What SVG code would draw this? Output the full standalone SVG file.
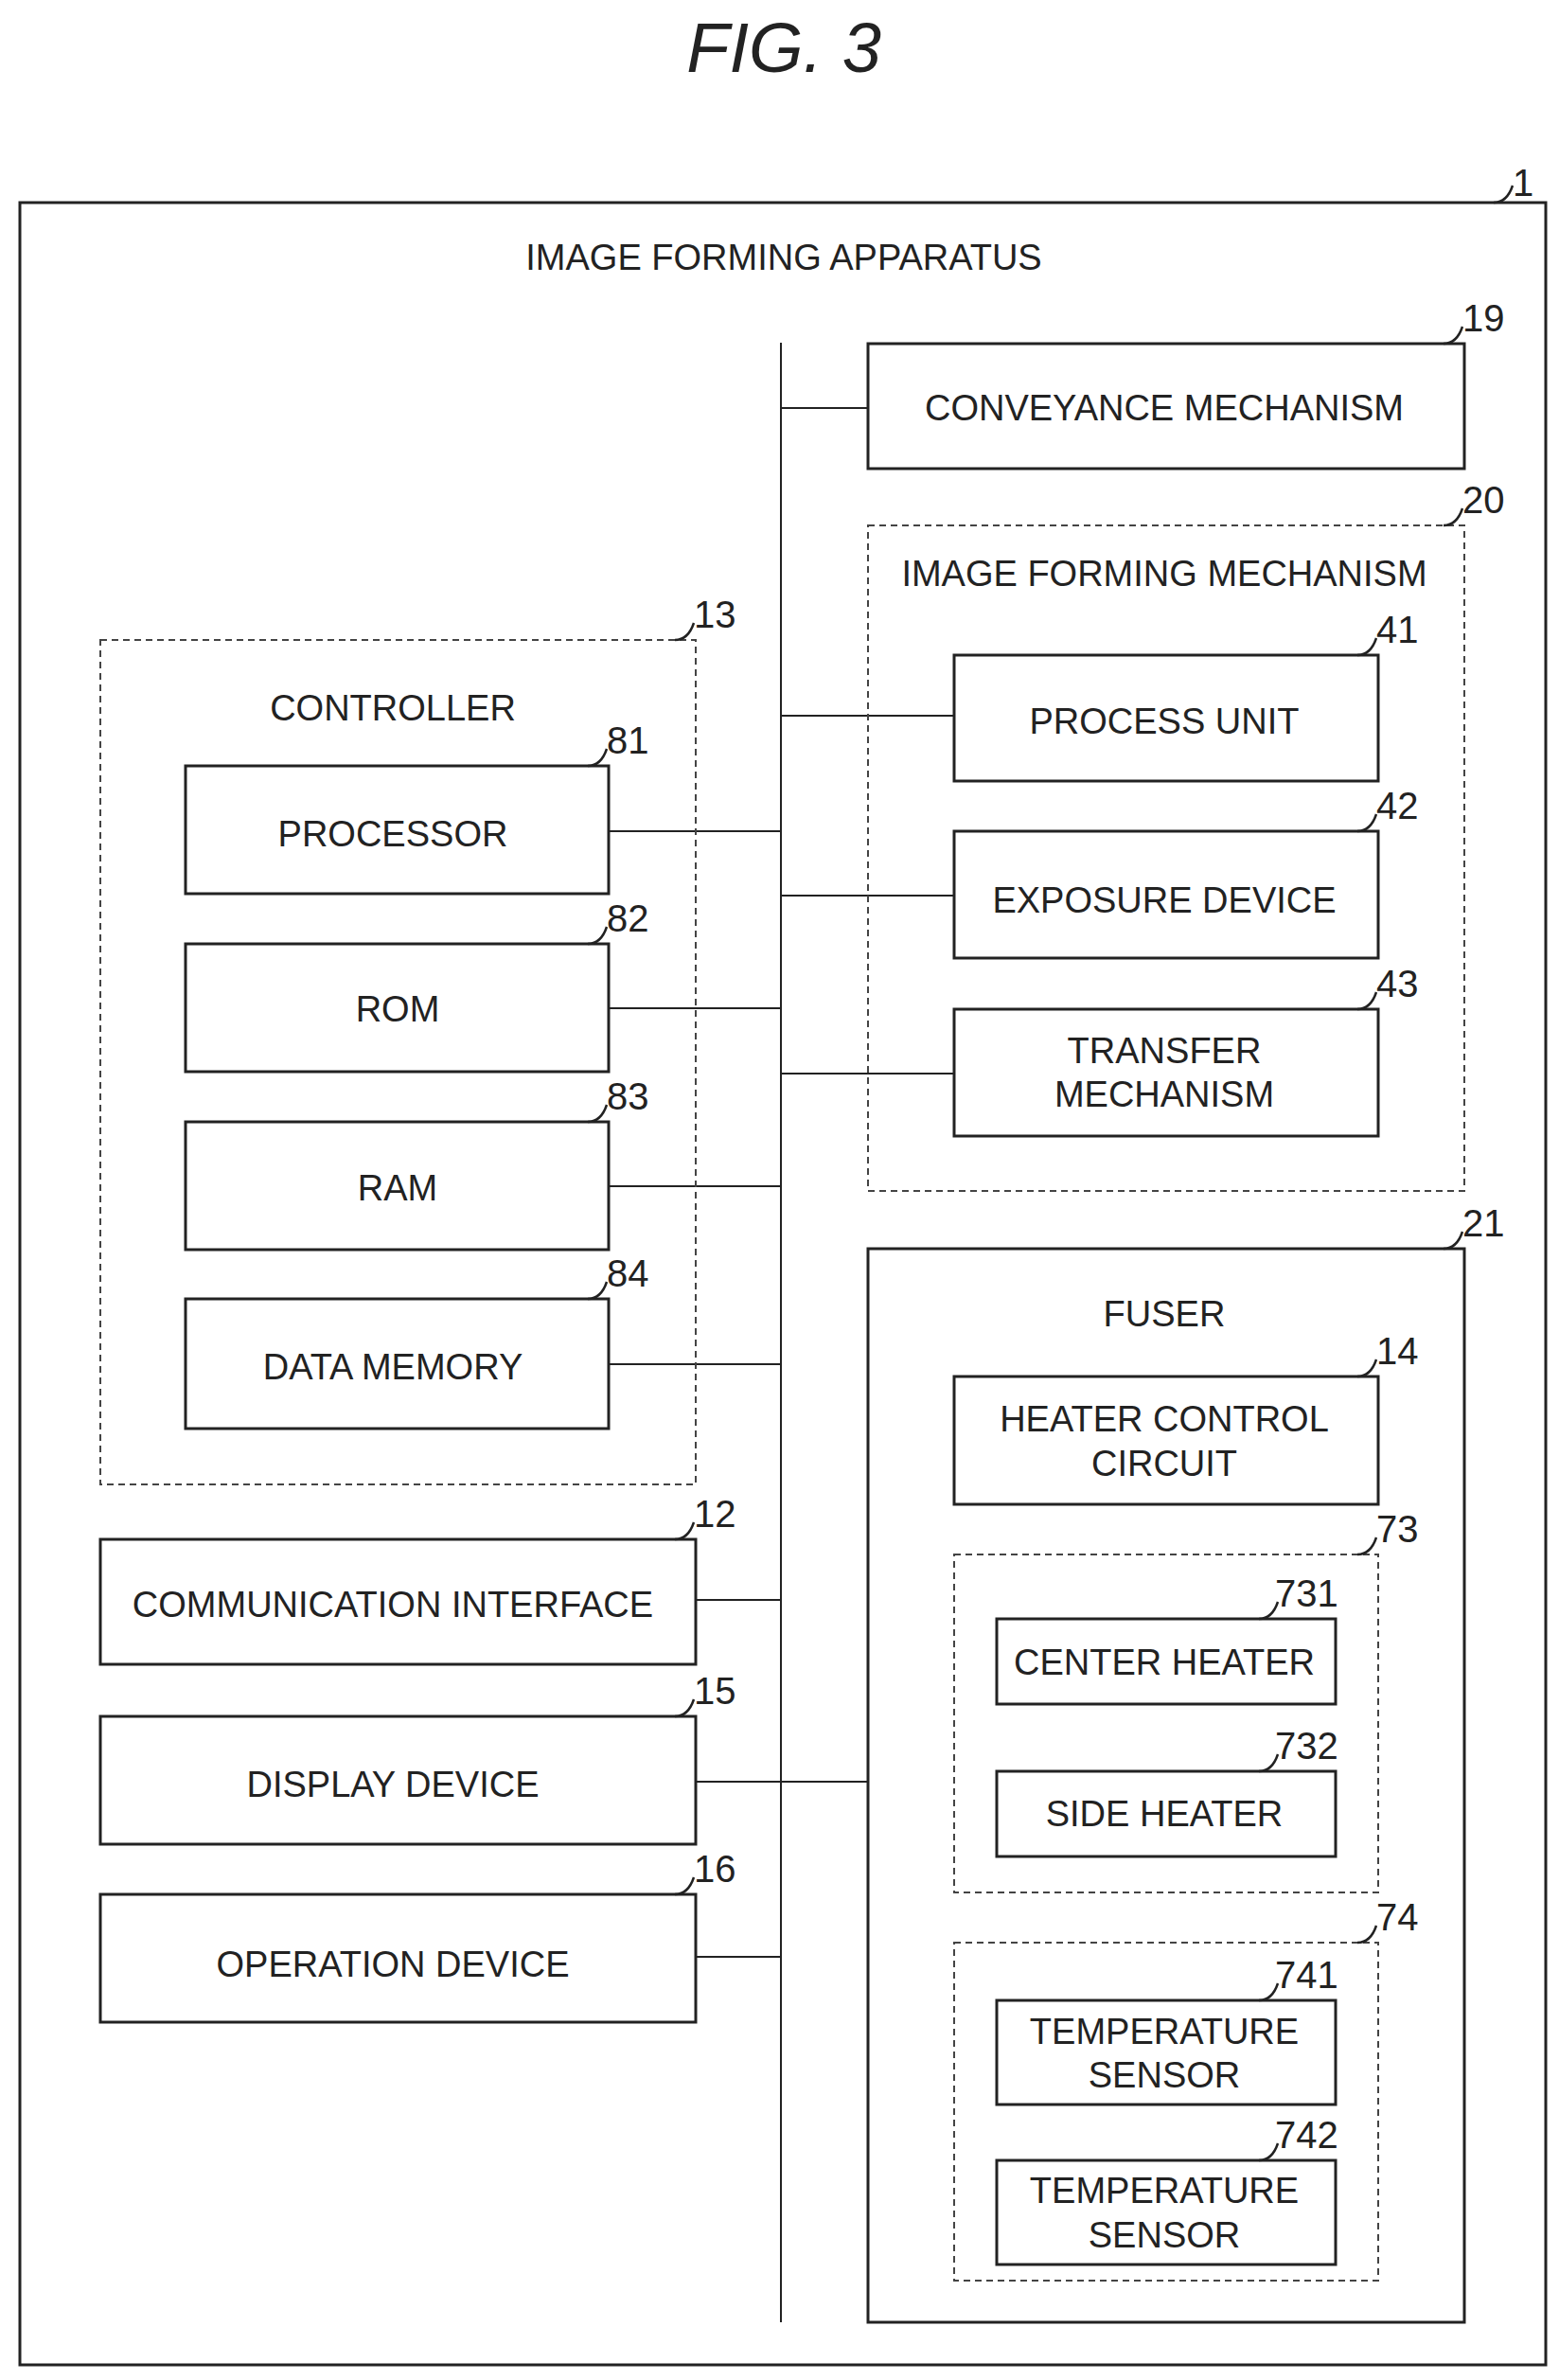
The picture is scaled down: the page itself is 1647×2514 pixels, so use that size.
<svg xmlns="http://www.w3.org/2000/svg" width="1647" height="2514" viewBox="0 0 1647 2514">
<style>
.b{fill:none;stroke:#222;stroke-width:3}
.d{fill:none;stroke:#444;stroke-width:2;stroke-dasharray:7 5}
.t{font-family:"Liberation Sans",Arial,sans-serif;font-size:38px;fill:#222;text-anchor:middle}
.n{font-family:"Liberation Sans",Arial,sans-serif;font-size:40px;fill:#222}
.l{fill:none;stroke:#222;stroke-width:2.5}
.c{stroke:#222;stroke-width:2;fill:none}
</style>
<rect width="1647" height="2514" fill="#fff"/>
<text x="828" y="76" font-family="Liberation Sans,Arial,sans-serif" font-size="74" font-style="italic" fill="#222" text-anchor="middle">FIG. 3</text>
<g id="apparatus">
<rect class="b" x="21" y="214" width="1612" height="2284"/>
<text class="t" x="828" y="285">IMAGE FORMING APPARATUS</text>
<path class="l" d="M1578 214 q14 0 20 -18"/><text class="n" x="1598" y="207">1</text>
</g>
<g id="connectors">
<path class="c" d="M825 362V2453M825 431H917M825 756H1008M643 878H825M825 946H1008M643 1065H825M825 1134H1008M643 1253H825M643 1441H825M735 1690H825M735 1882H917M735 2067H825"/>
</g>
<g id="n19"><rect class="b" x="917" y="363" width="630" height="132"/><text class="t" x="1230" y="444">CONVEYANCE MECHANISM</text><path class="l" d="M1525 363 q14 0 20 -18"/><text class="n" x="1545" y="350">19</text></g>
<g id="n20"><rect class="d" x="917" y="555" width="630" height="703"/><text class="t" x="1230" y="619">IMAGE FORMING MECHANISM</text><path class="l" d="M1525 555 q14 0 20 -18"/><text class="n" x="1545" y="542">20</text></g>
<g id="n41"><rect class="b" x="1008" y="692" width="448" height="133"/><text class="t" x="1230" y="775">PROCESS UNIT</text><path class="l" d="M1434 692 q14 0 20 -18"/><text class="n" x="1454" y="679">41</text></g>
<g id="n42"><rect class="b" x="1008" y="878" width="448" height="134"/><text class="t" x="1230" y="964">EXPOSURE DEVICE</text><path class="l" d="M1434 878 q14 0 20 -18"/><text class="n" x="1454" y="865">42</text></g>
<g id="n43"><rect class="b" x="1008" y="1066" width="448" height="134"/><text class="t" x="1230" y="1123">TRANSFER</text><text class="t" x="1230" y="1169">MECHANISM</text><path class="l" d="M1434 1066 q14 0 20 -18"/><text class="n" x="1454" y="1053">43</text></g>
<g id="n21"><rect class="b" x="917" y="1319" width="630" height="1134"/><text class="t" x="1230" y="1401">FUSER</text><path class="l" d="M1525 1319 q14 0 20 -18"/><text class="n" x="1545" y="1306">21</text></g>
<g id="n14"><rect class="b" x="1008" y="1454" width="448" height="135"/><text class="t" x="1230" y="1512">HEATER CONTROL</text><text class="t" x="1230" y="1559">CIRCUIT</text><path class="l" d="M1434 1454 q14 0 20 -18"/><text class="n" x="1454" y="1441">14</text></g>
<g id="n73"><rect class="d" x="1008" y="1642" width="448" height="357"/><path class="l" d="M1434 1642 q14 0 20 -18"/><text class="n" x="1454" y="1629">73</text></g>
<g id="n731"><rect class="b" x="1053" y="1710" width="358" height="90"/><text class="t" x="1230" y="1769">CENTER HEATER</text><path class="l" d="M1330 1710 q14 0 20 -18"/><text class="n" x="1347" y="1697">731</text></g>
<g id="n732"><rect class="b" x="1053" y="1871" width="358" height="90"/><text class="t" x="1230" y="1929">SIDE HEATER</text><path class="l" d="M1330 1871 q14 0 20 -18"/><text class="n" x="1347" y="1858">732</text></g>
<g id="n74"><rect class="d" x="1008" y="2052" width="448" height="357"/><path class="l" d="M1434 2052 q14 0 20 -18"/><text class="n" x="1454" y="2039">74</text></g>
<g id="n741"><rect class="b" x="1053" y="2113" width="358" height="110"/><text class="t" x="1230" y="2159">TEMPERATURE</text><text class="t" x="1230" y="2205">SENSOR</text><path class="l" d="M1330 2113 q14 0 20 -18"/><text class="n" x="1347" y="2100">741</text></g>
<g id="n742"><rect class="b" x="1053" y="2282" width="358" height="110"/><text class="t" x="1230" y="2327">TEMPERATURE</text><text class="t" x="1230" y="2374">SENSOR</text><path class="l" d="M1330 2282 q14 0 20 -18"/><text class="n" x="1347" y="2269">742</text></g>
<g id="n13"><rect class="d" x="106" y="676" width="629" height="892"/><text class="t" x="415" y="761">CONTROLLER</text><path class="l" d="M713 676 q14 0 20 -18"/><text class="n" x="733" y="663">13</text></g>
<g id="n81"><rect class="b" x="196" y="809" width="447" height="135"/><text class="t" x="415" y="894">PROCESSOR</text><path class="l" d="M621 809 q14 0 20 -18"/><text class="n" x="641" y="796">81</text></g>
<g id="n82"><rect class="b" x="196" y="997" width="447" height="135"/><text class="t" x="420" y="1079">ROM</text><path class="l" d="M621 997 q14 0 20 -18"/><text class="n" x="641" y="984">82</text></g>
<g id="n83"><rect class="b" x="196" y="1185" width="447" height="135"/><text class="t" x="420" y="1268">RAM</text><path class="l" d="M621 1185 q14 0 20 -18"/><text class="n" x="641" y="1172">83</text></g>
<g id="n84"><rect class="b" x="196" y="1372" width="447" height="137"/><text class="t" x="415" y="1457">DATA MEMORY</text><path class="l" d="M621 1372 q14 0 20 -18"/><text class="n" x="641" y="1359">84</text></g>
<g id="n12"><rect class="b" x="106" y="1626" width="629" height="132"/><text class="t" x="415" y="1708">COMMUNICATION INTERFACE</text><path class="l" d="M713 1626 q14 0 20 -18"/><text class="n" x="733" y="1613">12</text></g>
<g id="n15"><rect class="b" x="106" y="1813" width="629" height="135"/><text class="t" x="415" y="1898">DISPLAY DEVICE</text><path class="l" d="M713 1813 q14 0 20 -18"/><text class="n" x="733" y="1800">15</text></g>
<g id="n16"><rect class="b" x="106" y="2001" width="629" height="135"/><text class="t" x="415" y="2088">OPERATION DEVICE</text><path class="l" d="M713 2001 q14 0 20 -18"/><text class="n" x="733" y="1988">16</text></g>
</svg>
